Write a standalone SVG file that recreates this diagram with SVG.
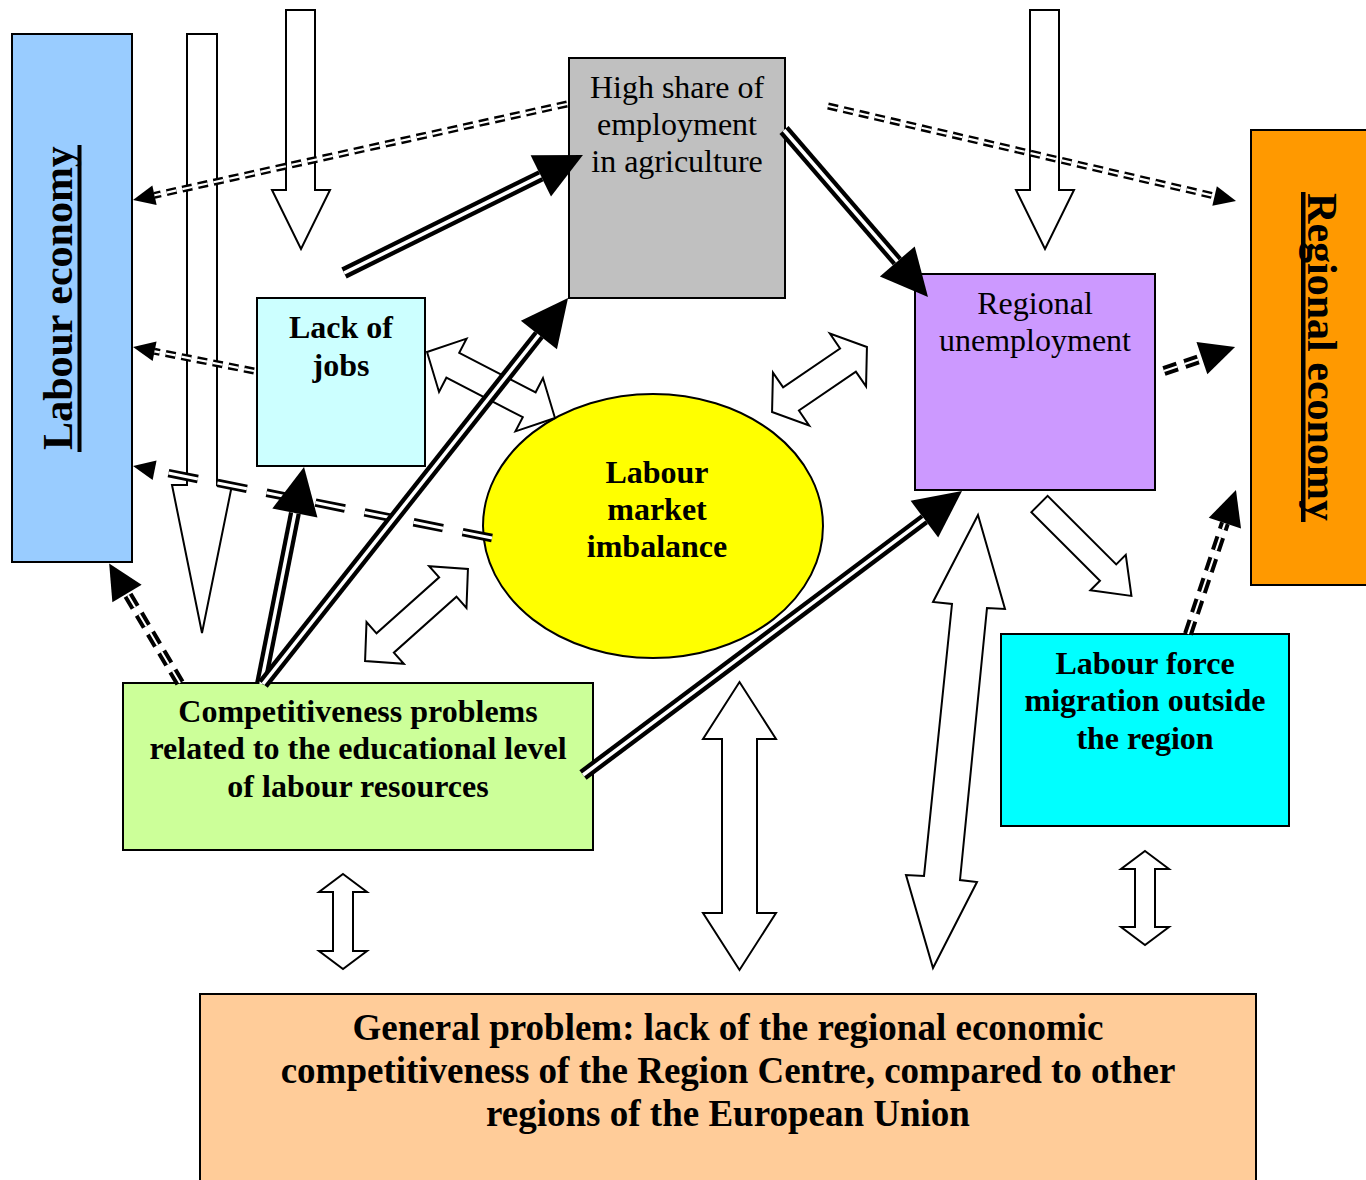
<svg xmlns="http://www.w3.org/2000/svg" width="1366" height="1180" viewBox="0 0 1366 1180">
<defs>
<style>
.box{stroke:#000;stroke-width:2}
.hollow{fill:#fff;stroke:#000;stroke-width:2;stroke-linejoin:miter}
.t{font-family:"Liberation Serif","Times New Roman",serif;font-size:32px;fill:#000;text-anchor:middle}
.b{font-weight:bold}
.tk{stroke:#000;stroke-width:12;fill:none}
.tw{stroke:#fff;stroke-width:3.5;fill:none}
.dk{stroke:#000;stroke-width:7;fill:none;stroke-dasharray:10 6}
.dw{stroke:#fff;stroke-width:2.2;fill:none;stroke-dasharray:10 6}
.lk{stroke:#000;stroke-width:8.5;fill:none;stroke-dasharray:30 20}
.lw{stroke:#fff;stroke-width:3;fill:none;stroke-dasharray:30 20}
.hk{stroke:#000;stroke-width:10;fill:none;stroke-dasharray:14 8}
.hw{stroke:#fff;stroke-width:2;fill:none;stroke-dasharray:14 8}
</style>
<marker id="hb" markerUnits="userSpaceOnUse" markerWidth="48" markerHeight="48" refX="0" refY="23" orient="auto" overflow="visible">
<path d="M0,0 L47,23 L0,46 Z" fill="#000"/>
</marker>
<marker id="hs" markerUnits="userSpaceOnUse" markerWidth="24" markerHeight="22" refX="0" refY="10" orient="auto" overflow="visible">
<path d="M0,0 L22,10 L0,20 Z" fill="#000"/>
</marker>
<marker id="hm" markerUnits="userSpaceOnUse" markerWidth="36" markerHeight="36" refX="0" refY="17" orient="auto" overflow="visible">
<path d="M0,0 L35,17 L0,34 Z" fill="#000"/>
</marker>
</defs>
<rect width="1366" height="1180" fill="#fff"/>

<g id="labour-economy">
<rect class="box" x="12" y="34" width="120" height="528" fill="#99ccff"/>
<text class="t b" style="font-size:42px" transform="translate(72,298) rotate(-90)">Labour economy</text>
<rect x="77.5" y="145" width="4" height="307" fill="#000"/>
</g>

<g id="regional-economy">
<rect class="box" x="1251" y="130" width="120" height="455" fill="#ff9900"/>
<text class="t b" style="font-size:42px" transform="translate(1308,357) rotate(90)">Regional economy</text>
<rect x="1301" y="192" width="4.5" height="330" fill="#000"/>
</g>

<g id="high-share">
<rect class="box" x="569" y="58" width="216" height="240" fill="#c0c0c0"/>
<text class="t" x="677" y="98">High share of</text>
<text class="t" x="677" y="135">employment</text>
<text class="t" x="677" y="172">in agriculture</text>
</g>

<g id="lack-of-jobs">
<rect class="box" x="257" y="298" width="168" height="168" fill="#ccffff"/>
<text class="t b" x="341" y="338">Lack of</text>
<text class="t b" x="341" y="376">jobs</text>
</g>

<g id="labour-market-imbalance">
<ellipse class="box" cx="653" cy="526" rx="170" ry="132" fill="#ffff00"/>
<text class="t b" x="657" y="483">Labour</text>
<text class="t b" x="657" y="520">market</text>
<text class="t b" x="657" y="557">imbalance</text>
</g>

<g id="regional-unemployment">
<rect class="box" x="915" y="274" width="240" height="216" fill="#cc99ff"/>
<text class="t" x="1035" y="314">Regional</text>
<text class="t" x="1035" y="351">unemployment</text>
</g>

<g id="competitiveness">
<rect class="box" x="123" y="683" width="470" height="167" fill="#ccff99"/>
<text class="t b" x="358" y="722">Competitiveness problems</text>
<text class="t b" x="358" y="759">related to the educational level</text>
<text class="t b" x="358" y="797">of labour resources</text>
</g>

<g id="labour-force-migration">
<rect class="box" x="1001" y="634" width="288" height="192" fill="#00ffff"/>
<text class="t b" x="1145" y="674">Labour force</text>
<text class="t b" x="1145" y="711">migration outside</text>
<text class="t b" x="1145" y="749">the region</text>
</g>

<g id="general-problem">
<rect class="box" x="200" y="994" width="1056" height="200" fill="#ffcc99"/>
<text class="t b" style="font-size:37px" x="728" y="1040">General problem: lack of the regional economic</text>
<text class="t b" style="font-size:37px" x="728" y="1083">competitiveness of the Region Centre, compared to other</text>
<text class="t b" style="font-size:37px" x="728" y="1126">regions of the European Union</text>
</g>

<g id="connectors">
<polygon class="hollow" points="187,34 217,34 217,485 232,485 202,633 172,485 187,485"/>
<polygon class="hollow" points="286,10 315,10 315,190 330,190 301,249 272,190 286,190"/>
<polygon class="hollow" points="1030,10 1059,10 1059,190 1074,190 1045,249 1016,190 1030,190"/>
<polygon class="hollow" points="739.5,682 776,739 757,739 757,913 776,913 739.5,970 703,913 722,913 722,739 703,739"/>
<polygon class="hollow" points="343,874 367,892 353,892 353,951 367,951 343,969 319,951 333,951 333,892 319,892"/>
<polygon class="hollow" points="1145,851 1169,869 1155,869 1155,927 1169,927 1145,945 1121,927 1135,927 1135,869 1121,869"/>
<polygon class="hollow" points="978,515 1005,609 987,608 960,880 977,882 933,968 906,875 924,876 952,604 933,602"/>
<polygon class="hollow" transform="translate(491,385) rotate(27.3)" points="-72,0 -43,-30 -43,-14 43,-14 43,-30 72,0 43,30 43,14 -43,14 -43,30"/>
<polygon class="hollow" transform="translate(416.5,615) rotate(-41.8)" points="-69,0 -42,-28 -42,-13 42,-13 42,-28 69,0 42,28 42,13 -42,13 -42,28"/>
<polygon class="hollow" transform="translate(819.5,379.5) rotate(-34.4)" points="-57.5,0 -34.5,-32 -34.5,-14 34.5,-14 34.5,-32 57.5,0 34.5,32 34.5,14 -34.5,14 -34.5,32"/>
<polygon class="hollow" transform="translate(1039.5,504) rotate(45)" points="0,-11.5 97,-11.5 97,-25 130,0 97,25 97,11.5 0,11.5"/>

<path class="dk" d="M567,104 L154.5,195.3" marker-end="url(#hs)"/>
<path class="dw" d="M567,104 L154.5,195.3"/>
<path class="dk" d="M254,371 L154.6,351.3" marker-end="url(#hs)"/>
<path class="dw" d="M254,371 L154.6,351.3"/>
<path class="dk" d="M828,106 L1214.6,196" marker-end="url(#hs)"/>
<path class="dw" d="M828,106 L1214.6,196"/>
<path class="lk" d="M492,538 L154.6,470.3" marker-end="url(#hs)"/>
<path class="lw" d="M492,538 L154.6,470.3"/>

<path class="hk" d="M1164,371 L1201.9,358.2" marker-end="url(#hm)"/>
<path class="hw" d="M1164,371 L1201.9,358.2"/>
<path class="hk" d="M180,683 L127,593.5" marker-end="url(#hm)"/>
<path class="hw" d="M180,683 L127,593.5"/>
<path class="hk" d="M1188,634 L1224.9,523.2" marker-end="url(#hm)"/>
<path class="hw" d="M1188,634 L1224.9,523.2"/>

<path class="tk" d="M344,273 L540.8,175.8" marker-end="url(#hb)"/>
<path class="tw" d="M344,273 L540.8,175.8"/>
<path class="tk" d="M784,130 L897.3,261.4" marker-end="url(#hb)"/>
<path class="tw" d="M784,130 L897.3,261.4"/>
<path class="tk" d="M261,684 L294.9,513.1" marker-end="url(#hb)"/>
<path class="tw" d="M261,684 L294.9,513.1"/>
<path class="tk" d="M263,684 L538.9,334.9" marker-end="url(#hb)"/>
<path class="tw" d="M263,684 L538.9,334.9"/>
<path class="tk" d="M583,775 L924.4,519.2" marker-end="url(#hb)"/>
<path class="tw" d="M583,775 L924.4,519.2"/>
</g>
</svg>
